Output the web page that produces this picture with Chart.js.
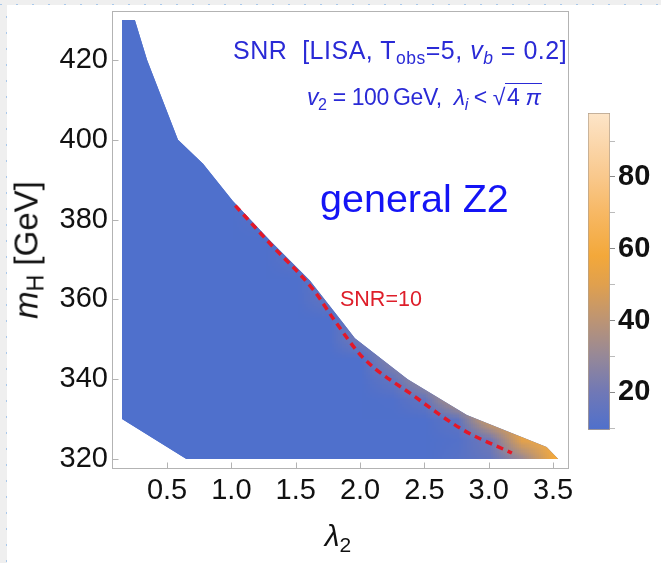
<!DOCTYPE html>
<html><head><meta charset="utf-8">
<script src="https://cdn.jsdelivr.net/npm/chart.js@4.4.1/dist/chart.umd.min.js"></script>
<style>
html,body{margin:0;padding:0;}
body{width:661px;height:563px;position:relative;overflow:hidden;background:#fff;font-family:"Liberation Sans",Arial,sans-serif;}
#stripL{position:absolute;left:0;top:0;width:7px;height:563px;background:#efefef;}
#stripL::after{content:"";position:absolute;right:0;top:0;width:1px;height:100%;background:repeating-linear-gradient(to bottom,#a9c8ea 0 2px,transparent 2px 16px);}
#stripT{position:absolute;left:0;top:0;width:661px;height:5px;background:#efefef;}
#stripT::after{content:"";position:absolute;left:0;bottom:0;height:1px;width:100%;background:repeating-linear-gradient(to right,#a9c8ea 0 2px,transparent 2px 16px);}
canvas{position:absolute;}
#main{left:0;top:0;}
#cb{left:578px;top:100px;}
.t{position:absolute;white-space:nowrap;line-height:1;}
sub{font-size:0.7em;vertical-align:-0.28em;line-height:0;}
.rt{border-top:1.5px solid;padding:0 1px 0 2px;}
</style></head>
<body>
<div id="stripL"></div><div id="stripT"></div>
<canvas id="main" width="661" height="563"></canvas>
<canvas id="cb" width="83" height="345"></canvas>
<div class="t" style="left:233px;top:38px;font-size:25px;color:#2a2ad6;letter-spacing:0.5px">SNR&nbsp; [LISA, T<sub>obs</sub>=5, <i>v<sub>b</sub></i> = 0.2]</div>
<div class="t" style="left:307px;top:86px;font-size:23px;color:#2a2ad6;letter-spacing:-0.4px"><i>v</i><sub>2</sub> = 100&thinsp;GeV,&nbsp; <i>λ<sub>i</sub></i> &lt; √<span class="rt">4 <i>π</i></span></div>
<div class="t" style="left:320px;top:179px;font-size:39.5px;color:#1414f5">general Z2</div>
<div class="t" style="left:340px;top:289px;font-size:21.5px;color:#de1e2a">SNR=10</div>
<div class="t" style="left:26px;top:250px;font-size:33px;color:#111;transform:translate(-50%,-50%) rotate(-90deg);"><i>m</i><sub>H</sub> [GeV]</div>
<div class="t" style="left:338px;top:521px;font-size:30px;color:#111;transform:translateX(-50%);"><i>λ</i><sub>2</sub></div>
<script>
// ---- data ----
const xTicks=[0.5,1.0,1.5,2.0,2.5,3.0,3.5];
const yTicks=[320,340,360,380,400,420];
const regionLambda=[0.15,0.25,0.345,0.585,0.78,1.01,1.30,1.61,1.87,1.96,2.37,2.83,3.45,3.54,0.65,0.15];
const regionMH=[430,430,420,400,394,384.75,374.75,364.75,354,350.25,340,331,323,320,320,330];
const snr10Lambda=[1.03,1.30,1.64,1.80,2.02,2.41,2.80,3.18];
const snr10MH=[383.5,374,362.3,354.8,345.5,336,327.3,321.5];
// SNR field samples near the upper-right boundary (other grid nodes are below the colour range)
const fieldLambda=[1.25,1.25,1.25, 1.5,1.5,1.5,1.5, 1.75,1.75,1.75,1.75, 2.0,2.0,2.0,2.0,2.0, 2.25,2.25,2.25,2.25,2.25, 2.5,2.5,2.5,2.5,2.5, 2.75,2.75,2.75,2.75,2.75,2.75,2.75, 3.0,3.0,3.0,3.0,3.0,3.0, 3.25,3.25,3.25,3.25,3.25, 3.5,3.5,3.5,3.5,3.5, 3.75,3.75,3.75,3.75,3.75];
const fieldMH=[385,380,375, 380,375,370,365, 370,365,360,355, 360,355,350,345,340, 355,350,345,340,335, 350,345,340,335,330, 345,340,335,330,325,320,315, 340,335,330,325,320,315, 335,330,325,320,315, 335,330,325,320,315, 335,330,325,320,315];
const fieldSNR=[12,12,7, 14,14,13,6, 17,17,16,7, 22,22,21,9,5, 27,27,27,16,10, 33,33,33,16,7, 42,42,42,15,11,12,12, 50,50,48,20,16,16, 57,57,52,30,30, 62,62,62,58,58, 64,64,64,64,64];
const baseSNR=5;
const cbMin=9.5, cbMax=97.8;
const cbTicks=[20,40,60,80];
const cbMinor=[10,20,30,40,50,60,70,80,90];

// ---- colour map ----
const cmap=[[9.5,[79,112,204]],[20,[112,120,182]],[30,[150,136,152]],[40,[188,148,116]],[50,[224,160,78]],[58,[243,168,58]],[70,[247,184,100]],[80,[249,200,140]],[90,[251,216,174]],[97.8,[253,229,200]]];
function colorOf(v){
  if(v<=cmap[0][0])return cmap[0][1];
  for(let i=1;i<cmap.length;i++){
    if(v<=cmap[i][0]){const a=cmap[i-1],b=cmap[i];const t=(v-a[0])/(b[0]-a[0]);
      return a[1].map((c,k)=>Math.round(c+(b[1][k]-c)*t));}
  }
  return cmap[cmap.length-1][1];
}
const rgb=c=>`rgb(${c[0]},${c[1]},${c[2]})`;

// ---- field grid image ----
const gL0=0,gLStep=0.25,nCols=16,gMTop=435,gMStep=5,nRows=25;
const fc=document.createElement('canvas');fc.width=nCols;fc.height=nRows;
const fctx=fc.getContext('2d');const im=fctx.createImageData(nCols,nRows);
function setNode(c,r,v){const col=colorOf(v);const o=(r*nCols+c)*4;im.data[o]=col[0];im.data[o+1]=col[1];im.data[o+2]=col[2];im.data[o+3]=255;}
for(let r=0;r<nRows;r++)for(let c=0;c<nCols;c++)setNode(c,r,baseSNR);
fieldLambda.forEach((l,k)=>{setNode(Math.round((l-gL0)/gLStep),Math.round((gMTop-fieldMH[k])/gMStep),fieldSNR[k]);});
fctx.putImageData(im,0,0);

const fieldPlugin={id:'field',beforeDatasetsDraw(chart){
  const {ctx,scales:{x,y}}=chart;const pts=chart.getDatasetMeta(0).data;
  ctx.save();ctx.beginPath();
  pts.forEach((p,i)=>i?ctx.lineTo(p.x,p.y):ctx.moveTo(p.x,p.y));ctx.closePath();
  ctx.fillStyle=rgb(colorOf(0));ctx.fill();ctx.clip();
  const x0=x.getPixelForValue(gL0-gLStep/2),x1=x.getPixelForValue(gL0+(nCols-0.5)*gLStep);
  const y0=y.getPixelForValue(gMTop+gMStep/2),y1=y.getPixelForValue(gMTop-(nRows-0.5)*gMStep);
  ctx.imageSmoothingEnabled=true;ctx.imageSmoothingQuality='low';
  ctx.drawImage(fc,0,0,nCols,nRows,x0,y0,x1-x0,y1-y0);
  ctx.restore();
}};
const framePlugin={id:'frame',afterDraw(chart){
  const {ctx,chartArea:a,scales:{x,y}}=chart;
  ctx.save();ctx.strokeStyle='#b3b3b3';ctx.lineWidth=1;
  const L=Math.round(a.left)-0.5,R=Math.round(a.right)-0.5,T=Math.round(a.top)+0.5,B=Math.round(a.bottom)+0.5;
  ctx.strokeRect(L,T,R-L,B-T);
  ctx.beginPath();
  xTicks.forEach(v=>{const p=Math.round(x.getPixelForValue(v))+0.5;ctx.moveTo(p,B);ctx.lineTo(p,B-6);});
  yTicks.forEach(v=>{const p=Math.round(y.getPixelForValue(v))+0.5;ctx.moveTo(L,p);ctx.lineTo(L+6,p);});
  ctx.stroke();ctx.restore();
}};
const noPad=s=>{s.paddingTop=0;s.paddingBottom=0;s.paddingLeft=0;s.paddingRight=0;};
const tickFont={size:29,family:'Liberation Sans'};
new Chart(document.getElementById('main'),{
  type:'line',
  data:{datasets:[
    {label:'region',data:regionLambda.map((v,i)=>({x:v,y:regionMH[i]})),showLine:false,pointRadius:0,borderColor:'transparent',backgroundColor:'transparent'},
    {label:'SNR=10',data:snr10Lambda.map((v,i)=>({x:v,y:snr10MH[i]})),borderColor:'rgb(228,24,40)',borderWidth:3.5,borderDash:[7,5],pointRadius:0,cubicInterpolationMode:'monotone',fill:false}
  ]},
  options:{responsive:false,animation:false,events:[],
    layout:{padding:{top:11,right:92,left:0,bottom:0}},
    plugins:{legend:{display:false},tooltip:{enabled:false}},
    scales:{
      x:{type:'linear',min:0.08,max:3.624,afterBuildTicks:s=>{s.ticks=xTicks.map(v=>({value:v}));},afterFit:s=>{s.height=95;noPad(s);},
         grid:{display:false,drawTicks:false},border:{display:false},
         ticks:{font:tickFont,color:'#111',padding:6,maxRotation:0,autoSkip:false,callback:v=>Number(v).toFixed(1)}},
      y:{type:'linear',min:317.74,max:432.28,afterBuildTicks:s=>{s.ticks=yTicks.map(v=>({value:v}));},afterFit:s=>{s.width=113;noPad(s);},
         grid:{display:false,drawTicks:false},border:{display:false},
         ticks:{font:tickFont,color:'#111',padding:5,autoSkip:false}}
    }
  },
  plugins:[fieldPlugin,framePlugin]
});

// ---- colour bar ----
new Chart(document.getElementById('cb'),{
  type:'bar',
  data:{labels:['SNR'],datasets:[{data:[[cbMin,cbMax]],
    backgroundColor:(c)=>{const ch=c.chart;const y=ch.scales.y;if(!ch.chartArea||!y)return rgb(colorOf(0));
      const g=ch.ctx.createLinearGradient(0,y.getPixelForValue(cbMin),0,y.getPixelForValue(cbMax));
      cmap.forEach(s=>g.addColorStop(Math.min(1,Math.max(0,(s[0]-cbMin)/(cbMax-cbMin))),rgb(s[1])));return g;},
    borderColor:'rgb(178,160,140)',borderWidth:1,borderSkipped:false,barPercentage:1,categoryPercentage:1}]},
  options:{responsive:false,animation:false,events:[],
    layout:{padding:{left:10,top:13,bottom:15,right:0}},
    plugins:{legend:{display:false},tooltip:{enabled:false}},
    scales:{x:{display:false},
      y:{position:'right',min:cbMin,max:cbMax,afterBuildTicks:s=>{s.ticks=cbMinor.map(v=>({value:v}));},afterFit:s=>{s.width=51;noPad(s);},
         grid:{drawOnChartArea:false,drawTicks:true,tickLength:5,tickColor:(c)=>c.tick&&cbTicks.includes(c.tick.value)?'#888':'#bbb'},
         border:{display:false},
         ticks:{font:{size:29,weight:'bold',family:'Liberation Sans'},color:'#111',padding:3,autoSkip:false,callback:v=>cbTicks.includes(v)?String(v):''}}}
  }
});
</script>
</body></html>
